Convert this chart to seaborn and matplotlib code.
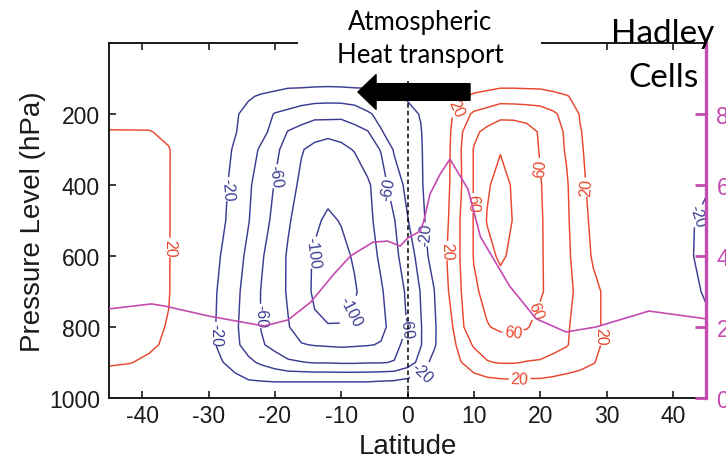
import numpy as np
import matplotlib
matplotlib.use("Agg")
import matplotlib.pyplot as plt
import seaborn as sns
from matplotlib.patches import Rectangle, FancyArrowPatch

# ---------------- data ----------------
lat_grid = [-45, -42, -39, -36, -33, -30, -28, -26, -24, -22, -20, -18, -16, -14, -12,
            -10, -8, -6, -4, -2, 0, 2, 4, 6, 8, 10, 12, 14, 16, 18, 20, 22, 24, 26,
            28, 30, 33, 36, 39, 42, 45]
pressure_levels = [100, 150, 200, 250, 300, 400, 500, 600, 700, 800, 850, 900, 950, 1000]

# mass stream function estimates (10^9 kg/s) along each pressure level
psi_p100 = [4, 3, 2, 1, 0, -2, -3, -5, -6, -7, -8, -9, -9, -10, -10, -10, -9, -9, -8, -6, -5,
            -3, -1, 1, 4, 6, 7, 8, 8, 8, 7, 6, 5, 4, 2, 1, 0, 0, 0, 0, 0]
psi_p150 = [6, 5, 3, 2, 0, -6, -10, -14, -18, -22, -25, -29, -30, -31, -32, -31, -30, -29, -26,
            -23, -18, -9, 0, 9, 17, 23, 26, 30, 30, 29, 29, 25, 21, 15, 7, 0, 0, 0, 0, 0, 0]
psi_p200 = [12, 11, 10, 4, 1, -6, -12, -18, -25, -33, -41, -44, -49, -53, -53, -54, -50, -42,
            -36, -31, -25, -19, -4, 13, 31, 43, 48, 54, 53, 52, 49, 43, 33, 19, 12, 4, 0, 0, 0, 0, 0]
psi_p250 = [21, 21, 21, 16, 6, -4, -12, -19, -27, -35, -46, -61, -67, -74, -75, -74, -67, -61,
            -41, -34, -27, -21, -6, 14, 37, 56, 65, 72, 73, 67, 58, 48, 37, 21, 13, 7, 0, 0, 0, 0, 0]
psi_p300 = [24, 24, 24, 21, 7, -6, -14, -22, -32, -43, -56, -67, -79, -84, -88, -84, -79, -69,
            -59, -38, -30, -22, -5, 15, 39, 61, 71, 79, 75, 68, 59, 49, 38, 22, 14, 7, -1, -4, -7, -10, -12]
psi_p400 = [26, 26, 26, 21, 6, -8, -16, -25, -37, -49, -61, -74, -83, -88, -94, -93, -92, -83,
            -69, -50, -35, -23, -4, 16, 38, 61, 78, 86, 78, 70, 61, 52, 42, 24, 15, 9, 0, -5, -10, -14, -18]
psi_p500 = [26, 26, 26, 21, 6, -8, -17, -27, -39, -52, -65, -78, -88, -97, -103, -99, -92, -84,
            -74, -61, -41, -26, -7, 18, 41, 61, 81, 88, 79, 70, 62, 52, 43, 27, 16, 11, 3, -4, -10, -17, -24]
psi_p600 = [26, 26, 26, 21, 5, -11, -21, -32, -44, -58, -70, -82, -93, -102, -108, -105, -98, -88,
            -77, -65, -50, -32, -10, 21, 41, 61, 74, 83, 76, 69, 62, 53, 44, 30, 18, 13, 5, -2, -10, -17, -25]
psi_p700 = [26, 26, 26, 21, 3, -13, -24, -35, -48, -61, -71, -82, -92, -103, -109, -108, -102, -92,
            -82, -70, -57, -39, -21, 18, 39, 57, 65, 72, 70, 66, 62, 54, 45, 35, 24, 17, 8, 0, -7, -14, -22]
psi_p800 = [25, 25, 24, 19, 1, -14, -25, -37, -49, -61, -70, -79, -88, -97, -99, -99, -97, -91,
            -84, -74, -59, -41, -25, 8, 37, 49, 59, 63, 63, 61, 55, 48, 42, 33, 24, 17, 8, 0, -5, -10, -16]
psi_p850 = [23, 22, 22, 18, 0, -14, -25, -36, -47, -58, -66, -73, -79, -81, -82, -83, -82, -81,
            -79, -67, -52, -41, -24, 5, 28, 42, 47, 52, 54, 52, 50, 45, 41, 33, 24, 17, 9, 0, -4, -8, -12]
psi_p900 = [21, 20.5, 18, 7, -3, -12, -19, -27, -36, -43, -50, -57, -59, -61, -61, -62, -62, -61,
            -61, -59, -49, -34, -11, 6, 19, 30, 39, 41, 41, 39, 38, 35, 32, 27, 21, 14, 4, -2, -4, -6, -8]
psi_p950 = [16, 13, 11, 7, 2, -5, -10, -15, -19.5, -21, -22, -22, -22, -22, -22, -22, -22, -22,
            -21, -20.5, -17, -12, -4, 3, 9, 13, 16, 18, 19, 18, 18, 16, 13, 11, 8, 5, 2, 0, -2, -3, -4]
psi_p1000 = [0] * len(lat_grid)

neg_levels = [-100, -80, -60, -40, -20]
pos_levels = [20, 40, 60, 80]

# magenta curve (right axis)
heat_lat = [-45, -38.6, -36.6, -30, -25, -21.6, -18, -14.6, -11.1, -8.6, -5.2, -3, -1.1, 0,
            1.9, 2.4, 3.4, 4.9, 6.4, 9.1, 11, 15.4, 19.4, 23.9, 28.4, 33.4, 36.4, 45]
heat_val = [2.51, 2.65, 2.59, 2.31, 2.14, 2.03, 2.2, 2.7, 3.49, 4.0, 4.39, 4.42, 4.28, 4.5,
            4.7, 4.95, 5.75, 6.3, 6.73, 5.89, 4.54, 3.15, 2.23, 1.86, 2.0, 2.28, 2.45, 2.23]

lat_ticks = [-40, -30, -20, -10, 0, 10, 20, 30, 40]
p_ticks = [200, 400, 600, 800, 1000]
heat_ticks = [0, 2, 4, 6, 8]

# label anchor points for contour labels (lat, p)
neg_label_pos = [(-26.6, 412), (-20.1, 375), (-3.1, 412), (-14.4, 590), (-28.8, 820),
                 (-21.8, 769), (-8.6, 754), (-0.1, 801), (2.2, 928), (2.7, 539), (43.2, 483)]
pos_label_pos = [(-35.8, 576), (7.0, 182), (9.9, 450), (20.1, 351), (26.4, 407), (6.1, 585),
                 (20.1, 759), (15.9, 825), (29.1, 825), (16.9, 947)]

# ---------------- styling ----------------
BLUE = "#3b3d93"
RED = "#e8472e"
MAG = "#c44bb0"
INK = "#1a1a1a"

sns.set_theme(style="ticks")
plt.rcParams["font.family"] = ["Liberation Sans", "DejaVu Sans"]
plt.rcParams["axes.unicode_minus"] = False

W, H = 726, 464
fig = plt.figure(figsize=(W / 100, H / 100), dpi=100, facecolor="white")
ax = fig.add_axes([109 / W, 1 - 399 / H, 597 / W, 355 / H])
ax.set_facecolor("white")

psi = np.array([psi_p100, psi_p150, psi_p200, psi_p250, psi_p300, psi_p400, psi_p500,
                psi_p600, psi_p700, psi_p800, psi_p850, psi_p900, psi_p950, psi_p1000], dtype=float)

cs_neg = ax.contour(lat_grid, pressure_levels, psi, levels=neg_levels, colors=BLUE,
                    linewidths=1.05, linestyles="solid")
cs_pos = ax.contour(lat_grid, pressure_levels, psi, levels=pos_levels, colors=RED,
                    linewidths=1.05, linestyles="solid")
ax.clabel(cs_neg, manual=neg_label_pos, fmt="%d", fontsize=11.5, inline=True, inline_spacing=2)
ax.clabel(cs_pos, manual=pos_label_pos, fmt="%d", fontsize=11.5, inline=True, inline_spacing=2)

# equator
ax.axvline(0, ymin=0, ymax=0.892, color="black", lw=1.1, ls=(0, (3, 2)), zorder=4)

ax.set_xlim(-45, 45)
ax.set_ylim(1000, 0)
ax.set_xticks(lat_ticks)
ax.set_yticks(p_ticks)
ax.tick_params(axis="x", which="both", direction="in", length=5, width=1.2, top=True,
               labeltop=False, labelsize=16.5, pad=4, colors=INK)
ax.tick_params(axis="y", direction="in", length=5, width=1.2, labelsize=16.5, pad=6.5,
               colors=INK, right=False)
for s in ["left", "bottom", "top"]:
    ax.spines[s].set_color(INK)
    ax.spines[s].set_linewidth(1.4)
ax.spines["right"].set_visible(False)

ax.set_xlabel("Latitude", fontsize=20, color=INK)
ax.xaxis.set_label_coords(0.5, -0.10)
ax.set_ylabel("Pressure Level (hPa)", fontsize=20, color=INK)
ax.yaxis.set_label_coords(-0.105, 0.5)

# right axis with the magenta curve
ax2 = ax.twinx()
sns.lineplot(x=heat_lat, y=heat_val, ax=ax2, color=MAG, lw=1.2, estimator=None, sort=False)
ax2.set_ylim(0, 10)
ax2.set_xlim(-45, 45)
ax2.set_yticks(heat_ticks)
ax2.set_ylabel("")
for s in ["left", "bottom", "top"]:
    ax2.spines[s].set_visible(False)
ax2.spines["right"].set_color(MAG)
ax2.spines["right"].set_linewidth(2.4)
ax2.tick_params(axis="y", direction="in", length=8, width=2.0, colors=MAG,
                labelsize=16.5, pad=7.5)

# ---------------- annotations ----------------
fig.add_artist(Rectangle((298 / W, 1 - 76 / H), (541 - 298) / W, 76 / H,
                         transform=fig.transFigure, facecolor="white", edgecolor="none",
                         zorder=2))
fig.add_artist(FancyArrowPatch(posA=(470 / W, 1 - 93 / H), posB=(358 / W, 1 - 93 / H),
                               transform=fig.transFigure,
                               arrowstyle="simple,head_length=1.3,head_width=2.5,tail_width=1.2",
                               mutation_scale=10, color="black", shrinkA=0, shrinkB=0,
                               zorder=5))
fig.text(420 / W, 1 - 30 / H, "Atmospheric", ha="center", va="baseline", fontsize=18.5,
         family="Lato", color="black", zorder=6)
fig.text(420 / W, 1 - 63 / H, "Heat transport", ha="center", va="baseline", fontsize=18.5,
         family="Lato", color="black", zorder=6)
fig.text(663 / W, 1 - 43 / H, "Hadley", ha="center", va="baseline", fontsize=24,
         family="Lato", color="black", zorder=6)
fig.text(663 / W, 1 - 87 / H, "Cells", ha="center", va="baseline", fontsize=24,
         family="Lato", color="black", zorder=6)

fig.savefig("out.png", dpi=100, facecolor="white")
